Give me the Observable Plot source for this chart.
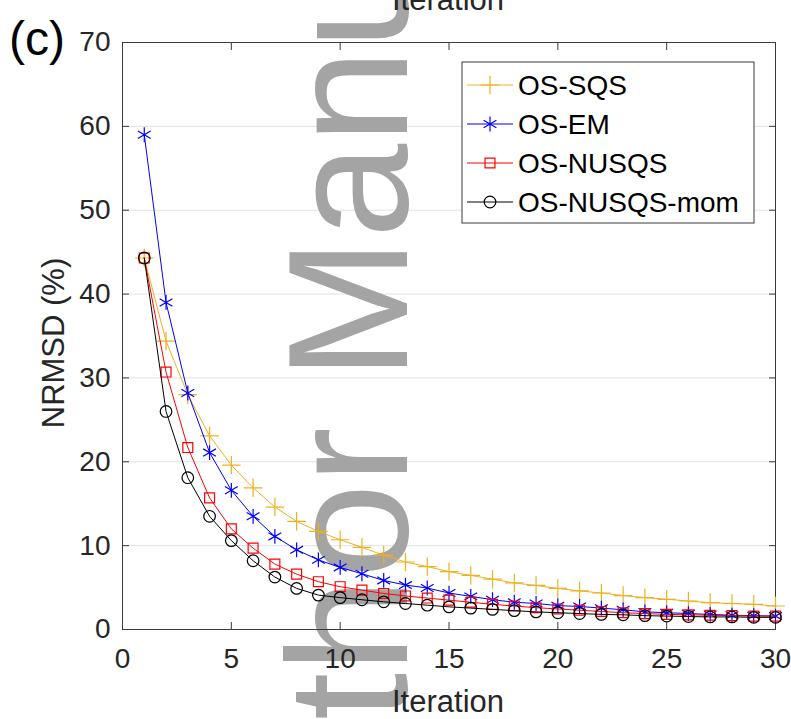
<!DOCTYPE html>
<html><head><meta charset="utf-8">
<script src="https://cdn.jsdelivr.net/npm/d3@7"></script>
<script src="https://cdn.jsdelivr.net/npm/@observablehq/plot@0.6"></script>
<style>html,body{margin:0;padding:0;background:#fff;} svg{display:block}</style>
</head><body><div id="chart"></div>
<script>
const iterations = d3.range(1, 31);
const seriesNames = ["OS-SQS", "OS-EM", "OS-NUSQS", "OS-NUSQS-mom"];
const osSQS = [44.3, 34.4, 28.0, 23.1, 19.6, 16.9, 14.6, 12.9, 11.7, 10.7,
  9.8, 8.85, 8.05, 7.5, 6.9, 6.45, 6.0, 5.55, 5.25, 4.9,
  4.6, 4.35, 4.05, 3.8, 3.6, 3.4, 3.2, 3.1, 3.0, 2.8];
const osEM = [59.0, 39.0, 28.2, 21.1, 16.6, 13.5, 11.1, 9.5, 8.3, 7.4,
  6.65, 5.85, 5.3, 4.95, 4.35, 3.95, 3.55, 3.25, 3.1, 2.85,
  2.75, 2.55, 2.35, 2.1, 2.0, 1.9, 1.8, 1.7, 1.65, 1.6];
const osNUSQS = [44.3, 30.7, 21.7, 15.7, 12.0, 9.7, 7.8, 6.6, 5.7, 5.1,
  4.7, 4.3, 4.0, 3.75, 3.5, 3.25, 3.0, 2.8, 2.6, 2.45,
  2.3, 2.15, 2.0, 1.9, 1.8, 1.75, 1.7, 1.65, 1.6, 1.6];
const osNUSQSmom = [44.3, 26.0, 18.1, 13.5, 10.6, 8.2, 6.25, 4.9, 4.1, 3.8,
  3.55, 3.3, 3.1, 2.9, 2.7, 2.55, 2.4, 2.25, 2.1, 2.0,
  1.9, 1.8, 1.75, 1.65, 1.6, 1.55, 1.5, 1.5, 1.45, 1.45];
const xTicks = [0, 5, 10, 15, 20, 25, 30];
const yTicks = [0, 10, 20, 30, 40, 50, 60, 70];

const seriesValues = [osSQS, osEM, osNUSQS, osNUSQSmom];
const colors = ["#EDB120", "#0000FF", "#FF0000", "#000000"];
const symbols = ["plus", "asterisk", "square", "circle"];
const radii = [6, 7, 5.6, 5.8];

const rows = seriesNames.map((name, s) =>
  iterations.map((it, i) => ({series: name, iter: it, value: seriesValues[s][i]})));

const FONT = "'Liberation Sans', Arial, Helvetica, sans-serif";
const AX = "#3a3a3a";

function watermark() {
  const t = d3.create("svg:text")
    .attr("transform", "translate(407,928) rotate(-90)")
    .attr("text-anchor", "start")
    .attr("font-family", FONT)
    .attr("font-size", 170)
    .attr("fill", "#a4a4a4")
    .text("Author Manuscript");
  return t.node();
}

const seriesMarks = rows.flatMap((data, s) => [
  Plot.line(data, {x: "iter", y: "value", stroke: colors[s], strokeWidth: 1}),
  Plot.dot(data, {x: "iter", y: "value", symbol: () => symbols[s], stroke: colors[s],
    fill: "none", r: radii[s], strokeWidth: 1.2})
]);

const chart = Plot.plot({
  width: 791,
  height: 719,
  marginLeft: 122,
  marginRight: 16,
  marginTop: 42,
  marginBottom: 90,
  style: {fontFamily: FONT, fontSize: "28px", color: "#262626", background: "white"},
  x: {domain: [0, 30], ticks: xTicks, label: null},
  y: {domain: [0, 70], ticks: yTicks, label: null},
  symbol: {type: "identity"},
  marks: [
    Plot.gridY(yTicks, {stroke: "#e2e2e2", strokeOpacity: 1}),
    watermark,
    Plot.frame({stroke: AX, strokeWidth: 1}),
    Plot.axisX({ticks: xTicks, anchor: "bottom", tickSize: 7, dy: -7, tickFormat: () => "", stroke: AX}),
    Plot.axisX({ticks: xTicks, anchor: "top", tickSize: 7, dy: 7, tickFormat: () => "", stroke: AX}),
    Plot.axisY({ticks: yTicks, anchor: "left", tickSize: 7, dx: 7, tickFormat: () => "", stroke: AX}),
    Plot.axisY({ticks: yTicks, anchor: "right", tickSize: 7, dx: -7, tickFormat: () => "", stroke: AX}),
    Plot.axisX({ticks: xTicks, anchor: "bottom", tickSize: 0, tickPadding: 19, fontSize: 28, label: null, fill: "#262626"}),
    Plot.axisY({ticks: yTicks, anchor: "left", tickSize: 0, tickPadding: 12, fontSize: 28, label: null, fill: "#262626"}),
    ...seriesMarks
  ]
});

document.getElementById("chart").appendChild(chart);

const svg = d3.select(chart);
// axis titles and panel label
svg.append("text").attr("x", 448).attr("y", 712).attr("text-anchor", "middle")
  .attr("font-family", FONT).attr("font-size", 31).attr("fill", "#262626").text("Iteration");
svg.append("text").attr("x", 448).attr("y", 10).attr("text-anchor", "middle")
  .attr("font-family", FONT).attr("font-size", 31).attr("fill", "#262626").text("Iteration");
svg.append("text").attr("transform", "translate(64,343) rotate(-90)").attr("text-anchor", "middle")
  .attr("font-family", FONT).attr("font-size", 31).attr("fill", "#262626").text("NRMSD (%)");
svg.append("text").attr("x", 9).attr("y", 55).attr("text-anchor", "start")
  .attr("font-family", FONT).attr("font-size", 48).attr("fill", "#000").text("(c)");

// legend
const lg = svg.append("g");
lg.append("rect").attr("x", 462).attr("y", 62).attr("width", 292).attr("height", 161)
  .attr("fill", "white").attr("stroke", AX).attr("stroke-width", 1);
const symMap = {plus: d3.symbolPlus, asterisk: d3.symbolAsterisk, square: d3.symbolSquare, circle: d3.symbolCircle};
seriesNames.forEach((name, i) => {
  const cy = 85 + 39 * i;
  lg.append("line").attr("x1", 467).attr("x2", 513).attr("y1", cy).attr("y2", cy)
    .attr("stroke", colors[i]).attr("stroke-width", 1);
  lg.append("path").attr("transform", `translate(490,${cy})`)
    .attr("d", d3.symbol(symMap[symbols[i]], Math.PI * radii[i] * radii[i])())
    .attr("fill", "none").attr("stroke", colors[i]).attr("stroke-width", 1.2);
  lg.append("text").attr("x", 518).attr("y", cy).attr("dy", "0.36em").attr("text-anchor", "start")
    .attr("font-family", FONT).attr("font-size", 28).attr("fill", "#000").text(name);
});
</script></body></html>
